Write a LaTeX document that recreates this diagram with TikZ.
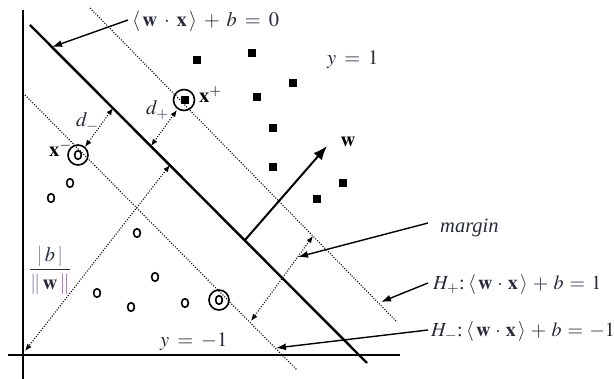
\documentclass[tikz,border=0pt]{standalone}
\usepackage{amsmath}
\usepackage{mathptmx}
\usepackage{fontspec}
\setmainfont{Liberation Serif}
\usetikzlibrary{arrows.meta,shapes.geometric}
\definecolor{lbl}{RGB}{40,42,60}
\definecolor{barc}{RGB}{140,110,160}
\newcommand\lblfont{\fontsize{20.5}{24}\selectfont}
\newcommand\hfont{\fontsize{20}{24}\selectfont}
\newcommand\tightmath{\medmuskip=4.5mu\relax\thickmuskip=5.5mu\relax}
\medmuskip=6mu\relax
\thickmuskip=7mu\relax
\begin{document}
\begin{tikzpicture}[x=1pt,y=-1pt,
  every node/.style={font=\lblfont, text=lbl, inner sep=0pt},
  axisline/.style={line width=1.8pt},
  sepline/.style={line width=2.4pt},
  hypline/.style={line width=1.1pt, dash pattern=on 1pt off 1.6pt},
  ptr/.style={line width=1.4pt, -{Latex[length=10pt,width=7pt]}},
  dbl/.style={line width=1.1pt, dash pattern=on 1pt off 1.6pt, {Latex[length=7pt,width=5.5pt]}-{Latex[length=7pt,width=5.5pt]}},
  wvec/.style={line width=2pt, -{Latex[length=14pt,width=11pt]}},
  sq/.style={rectangle, fill=black, draw=none, minimum size=8.5pt, inner sep=0pt},
  negpt/.style={ellipse, draw=black, line width=1.6pt, minimum width=6.8pt, minimum height=8.6pt, inner sep=0pt},
  ring/.style={circle, draw=black, line width=1.6pt, minimum size=#1, inner sep=0pt},
  ring/.default=20pt]
\useasboundingbox (0,0) rectangle (614,379);
% axes
\coordinate (vt) at (23,10);
\coordinate (vb) at (23,379);
\coordinate (hl) at (8,355);
\coordinate (hr) at (400,355);
\draw[axisline] (vt) -- (vb);
\draw[axisline] (hl) -- (hr);
% separating line and margin hyperplanes
\coordinate (m1) at (30,25);
\coordinate (m2) at (367,363);
\coordinate (p1) at (90,8);
\coordinate (p2) at (397,322);
\coordinate (n1) at (25,95);
\coordinate (n2) at (297,370);
\draw[sepline] (m1) -- (m2);
\draw[hypline] (p1) -- (p2);
\draw[hypline] (n1) -- (n2);
% positive points
\node[sq] (s1) at (197,60) {};
\node[sq] (s2) at (252,53) {};
\node[sq] (s3) at (293,83) {};
\node[sq] (s4) at (257,97) {};
\node[sq] (s5) at (273,128) {};
\node[sq] (s6) at (273,167) {};
\node[sq] (s7) at (343,183) {};
\node[sq] (s8) at (317,199) {};
\node[sq] (xp) at (185,100) {};
\node[ring=21pt] (xpc) at (184,100) {};
% negative points
\node[negpt] (o1) at (70,183) {};
\node[negpt] (o2) at (51,198) {};
\node[negpt] (o3) at (137,233) {};
\node[negpt] (o4) at (155,277) {};
\node[negpt] (o5) at (97,293) {};
\node[negpt] (o6) at (131,307) {};
\node[negpt] (o7) at (185,303) {};
\node[negpt] (xm) at (78,155) {};
\node[ring] (xmc) at (78,155) {};
\node[negpt] (o8) at (219,300) {};
\node[ring] (o8c) at (219,300) {};
% distance arrows
\coordinate (dpt) at (151,146);
\coordinate (dpb) at (177,110);
\coordinate (dmt) at (113,108);
\coordinate (dmb) at (85,147);
\coordinate (bt) at (170,165);
\coordinate (bo) at (25,351);
\coordinate (mt) at (313,236);
\coordinate (mb) at (251,321);
\draw[dbl] (dpb) -- (dpt);
\draw[dbl] (dmt) -- (dmb);
\draw[dbl] (bt) -- (bo);
\draw[dbl] (mt) -- (mb);
% normal vector
\coordinate (wb) at (245,240);
\coordinate (wt) at (327,146);
\draw[wvec] (wb) -- (wt);
% labels
\node[anchor=base west] (l0) at (132,27) {$\langle\,\mathbf{w}\cdot\mathbf{x}\,\rangle + b = 0$};
\node[anchor=base west] (y1) at (327,65) {$y = 1$};
\node[anchor=base west] (ym1) at (160,347) {$y = -1$};
\node[anchor=base west] (mg) at (440,233) {\textit{margin}};
\node[anchor=base west, font=\hfont] (hp) at (433,290) {\tightmath$H_{+}$:\,$\langle\,\mathbf{w}\cdot\mathbf{x}\,\rangle + b = 1$};
\node[anchor=base west, font=\hfont] (hm) at (431,337) {\tightmath$H_{-}$:\,$\langle\,\mathbf{w}\cdot\mathbf{x}\,\rangle + b = -1$};
\node[text=black] (wl) at (348,142) {$\mathbf{w}$};
\node[anchor=base west, text=black] (xpl) at (199,103) {$\mathbf{x}^{+}$};
\node[anchor=base west, text=black] (xml) at (49,157) {$\mathbf{x}^{-}$};
\node[anchor=base west] (dm) at (76,127) {$d_{-}$};
\node[anchor=base west] (dp) at (146,115) {$d_{+}$};
\node (bw) at (50,270) {$\dfrac{\textcolor{barc}{|}\,b\,\textcolor{barc}{|}}{\textcolor{barc}{\|}\,\mathbf{w}\,\textcolor{barc}{\|}}$};
% pointers
\coordinate (t0) at (52,47);
\coordinate (tm) at (298,257);
\coordinate (tp) at (381,302);
\coordinate (tn) at (276,348);
\draw[ptr] (128,20) -- (t0);
\draw[ptr] ([xshift=-12pt]mg.base west) ++(0,-10) -- (tm);
\draw[ptr] ([xshift=-5pt]hp.base west) ++(0,-7) -- (tp);
\draw[ptr] ([xshift=-3pt]hm.base west) ++(0,-7) -- (tn);
\end{tikzpicture}
\end{document}
